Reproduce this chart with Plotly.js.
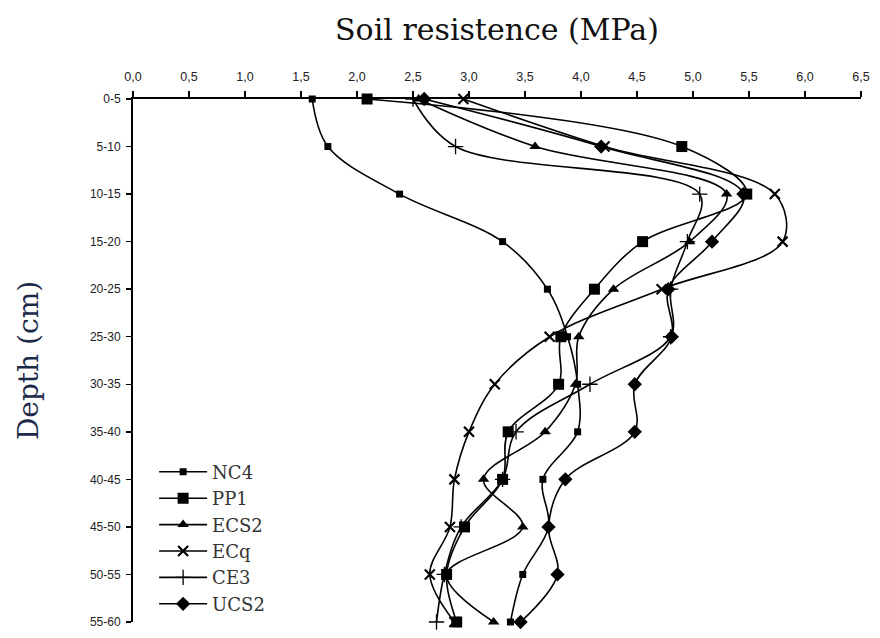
<!DOCTYPE html>
<html>
<head>
<meta charset="utf-8">
<script src="https://cdn.plot.ly/plotly-3.0.1.min.js"></script>
<style>html,body{margin:0;padding:0;background:#fff;}#chart{width:880px;height:638px;}</style>
</head>
<body>
<div id="chart"></div>
<script>
// Depth classes (cm), top to bottom
var depths = ["0-5","5-10","10-15","15-20","20-25","25-30","30-35","35-40","40-45","45-50","50-55","55-60"];
// Soil resistance (MPa) per depth class
var NC4  = [1.60, 1.74, 2.38, 3.30, 3.70, 3.88, 3.97, 3.97, 3.66, 3.71, 3.48, 3.37];
var PP1  = [2.09, 4.90, 5.48, 4.55, 4.12, 3.82, 3.80, 3.35, 3.30, 2.96, 2.80, 2.89];
var ECS2 = [2.55, 3.59, 5.30, 4.97, 4.29, 3.98, 3.95, 3.68, 3.13, 3.48, 2.80, 3.22];
var ECq  = [2.95, 4.21, 5.73, 5.80, 4.72, 3.72, 3.23, 3.00, 2.87, 2.83, 2.65, 2.87];
var CE3  = [2.50, 2.88, 5.06, 4.95, 4.80, 4.80, 4.08, 3.42, 3.30, 2.93, 2.78, 2.71];
var UCS2 = [2.60, 4.18, 5.45, 5.17, 4.78, 4.81, 4.48, 4.48, 3.86, 3.71, 3.79, 3.46];
var xTicks = [0,0.5,1,1.5,2,2.5,3,3.5,4,4.5,5,5.5,6,6.5];

var idx = depths.map(function(d,i){return i;});
function tr(name, xs, symbol, size, lw){
  return {
    type:'scatter', mode:'lines+markers', name:name,
    x: xs, y: idx, cliponaxis:false,
    line:{color:'#000', width:1.6, shape:'spline', smoothing:1},
    marker:{symbol:symbol, size:size, color:'#000', line:{color:'#000', width:lw}}
  };
}
var data = [
  tr('NC4', NC4, 'square', 7, 0),
  tr('PP1', PP1, 'square', 11, 0),
  tr('ECS2', ECS2, 'triangle-up', 10, 0),
  tr('ECq', ECq, 'x-thin-open', 10, 2.2),
  tr('CE3', CE3, 'cross-thin-open', 11, 1.3),
  tr('UCS2', UCS2, 'diamond', 11, 0)
];
var layout = {
  width:880, height:638,
  paper_bgcolor:'#fff', plot_bgcolor:'#fff',
  separators:', ',
  margin:{l:133, r:19, t:99, b:16, pad:0},
  showlegend:true,
  legend:{x:0.029, y:0.322, xanchor:'left', yanchor:'top',
          bgcolor:'rgba(0,0,0,0)', itemwidth:48,
          font:{family:'DejaVu Serif', size:18, color:'#333'}},
  xaxis:{
    side:'top', range:[0,6.5], tickvals:xTicks, tickformat:'.1f',
    ticks:'outside', ticklen:6, tickwidth:1.5, tickcolor:'#000',
    showline:true, linewidth:2, linecolor:'#000', showgrid:false, zeroline:false,
    tickfont:{family:'Liberation Sans', size:12.5, color:'#222'},
    ticklabelstandoff:5,
    title:{text:'Soil resistence (MPa)', font:{family:'DejaVu Serif', size:30, color:'#111'}, standoff:21}
  },
  yaxis:{
    range:[11,0], tickvals:idx, ticktext:depths,
    ticks:'outside', ticklen:5, tickwidth:1.5, tickcolor:'#000',
    showline:true, linewidth:2, linecolor:'#000', showgrid:false, zeroline:false,
    tickfont:{family:'Liberation Sans', size:12, color:'#222'},
    ticklabelstandoff:3,
    title:{text:'Depth (cm)', font:{family:'DejaVu Serif', size:28, color:'#1c2a4a'}, standoff:43}
  }
};
Plotly.newPlot('chart', data, layout, {displayModeBar:false, staticPlot:true});
</script>
</body>
</html>
